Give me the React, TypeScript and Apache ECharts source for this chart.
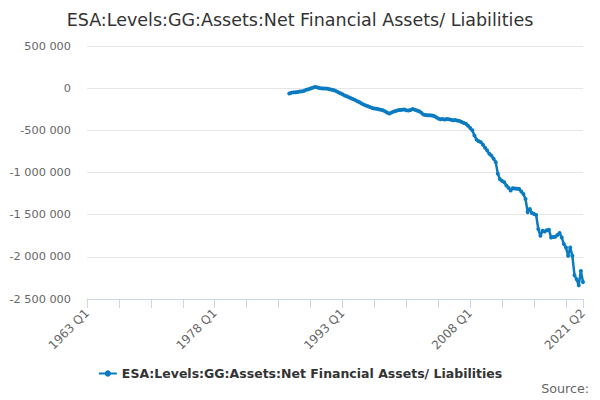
import React, { useEffect, useRef } from 'react';
import * as echarts from 'echarts';

const title = 'ESA:Levels:GG:Assets:Net Financial Assets/ Liabilities';

// quarters from 1963 Q1 to 2021 Q2
const quarters: string[] = [];
for (let y = 1963; y <= 2021; y++) {
  for (let q = 1; q <= 4; q++) {
    if (y === 2021 && q > 2) break;
    quarters.push(`${y} Q${q}`);
  }
}

// first observation
const firstQuarter = '1986 Q4';

const netAssets: number[] = [
  -63000, -55000, -50000, -48000, -45000, -40000, -38000, -30000, -20000, -12000,
  -5000, 5000, 15000, 10000, 3000, 0, -3000, -5000, -8000, -12000,
  -18000, -25000, -35000, -48000, -60000, -72000, -87000, -97000, -108000, -119000,
  -130000, -142000, -155000, -168000, -182000, -195000, -205000, -215000, -225000, -235000,
  -242000, -245000, -250000, -255000, -262000, -275000, -290000, -301000, -290000, -278000,
  -270000, -262000, -258000, -256000, -254000, -262000, -266000, -258000, -246000, -255000,
  -265000, -274000, -290000, -313000, -318000, -320000, -322000, -325000, -330000, -345000,
  -360000, -369000, -365000, -372000, -366000, -369000, -375000, -381000, -378000, -385000,
  -389000, -400000, -412000, -421000, -445000, -472000, -500000, -560000, -610000, -630000,
  -640000, -670000, -706000, -740000, -778000, -800000, -837000, -877000, -1016000, -1080000,
  -1100000, -1115000, -1155000, -1180000, -1214000, -1187000, -1190000, -1192000, -1195000, -1225000,
  -1254000, -1313000, -1472000, -1432000, -1480000, -1492000, -1504000, -1670000, -1750000, -1690000,
  -1700000, -1685000, -1679000, -1770000, -1765000, -1762000, -1740000, -1718000, -1770000, -1849000,
  -1889000, -1988000, -1889000, -1988000, -2218000, -2266000, -2337000, -2167000, -2298000,
];

const fmt = (v: number) =>
  String(v).replace(/\B(?=(\d{3})+(?!\d))/g, ' ');

const App: React.FC = () => {
  const chartRef = useRef<HTMLDivElement | null>(null);

  useEffect(() => {
    if (!chartRef.current) return;
    const chart = echarts.init(chartRef.current, null, { renderer: 'svg' });

    const start = quarters.indexOf(firstQuarter);
    const seriesData = quarters.map((_, i) =>
      i < start ? null : netAssets[i - start] ?? null
    );
    const last = quarters.length - 1;

    const option = {
      animation: false,
      textStyle: { fontFamily: 'DejaVu Sans' },
      title: [
        {
          text: title,
          left: 'center',
          top: 6,
          textStyle: { fontSize: 17.5, fontWeight: 'normal', color: '#333333', fontFamily: 'DejaVu Sans' },
        },
        {
          text: 'Source:',
          right: 6,
          bottom: 0,
          textStyle: { fontSize: 12.7, fontWeight: 'normal', color: '#666666', fontFamily: 'DejaVu Sans' },
        },
      ],
      legend: {
        bottom: 15,
        left: 'center',
        itemWidth: 18,
        itemHeight: 8,
        itemGap: 5,
        textStyle: { fontSize: 12.5, fontWeight: 'bold', color: '#333333', fontFamily: 'DejaVu Sans' },
        data: [title],
      },
      grid: { left: 87, right: 17, top: 46, bottom: 101 },
      xAxis: {
        type: 'category',
        data: quarters,
        boundaryGap: false,
        axisLine: { onZero: false, lineStyle: { color: '#ccd6eb' } },
        axisTick: {
          length: 9,
          lineStyle: { color: '#ccd6eb' },
          interval: (i: number) => i % 15 === 0 || i === last,
        },
        axisLabel: {
          rotate: 45,
          fontSize: 12,
          color: '#666666',
          margin: 12,
          interval: (i: number) => i % 60 === 0 || i === last,
        },
      },
      yAxis: {
        type: 'value',
        min: -2500000,
        max: 500000,
        interval: 500000,
        axisLine: { show: false },
        axisTick: { show: false },
        splitLine: { lineStyle: { color: '#e6e6e6' } },
        axisLabel: { fontSize: 11.3, color: '#666666', margin: 16, formatter: fmt },
      },
      series: [
        {
          name: title,
          type: 'line',
          data: seriesData,
          color: '#0b7bc1',
          lineStyle: { width: 2.5 },
          symbol: 'circle',
          symbolSize: 4,
          showSymbol: true,
          showAllSymbol: true,
        },
      ],
    };

    chart.setOption(option);
    return () => chart.dispose();
  }, []);

  return (
    <div
      ref={chartRef}
      style={{ position: 'absolute', left: 0, top: 0, width: 600, height: 400 }}
    />
  );
};

export default App;
